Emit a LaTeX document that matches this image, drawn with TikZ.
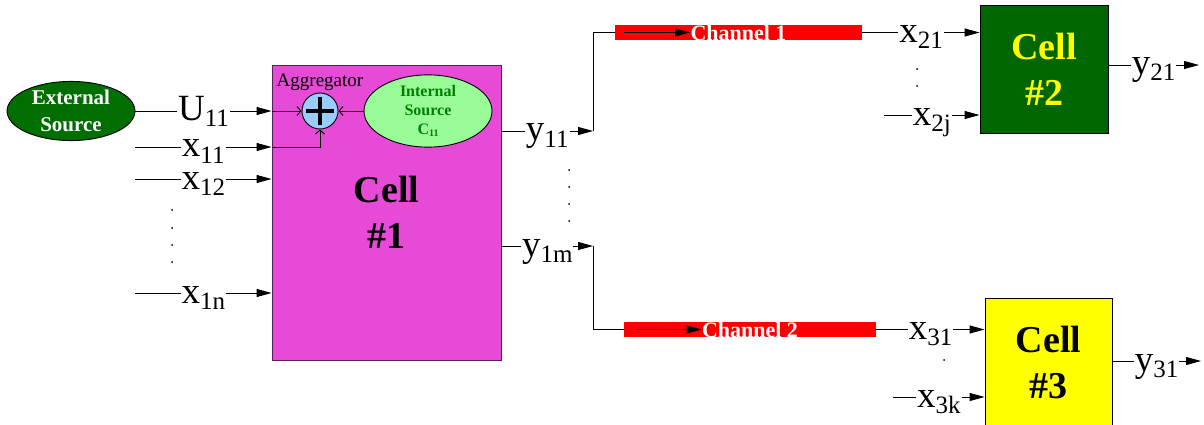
\documentclass[tikz,border=0pt]{standalone}
\usepackage{fontspec}
\setmainfont{Liberation Serif}
\usetikzlibrary{
  arrows.meta,
  calc,
  positioning,
  shapes.geometric,
}

\definecolor{cellpink}{RGB}{230,74,214}
\definecolor{celledge}{RGB}{90,30,90}
\definecolor{celldark}{RGB}{0,102,0}
\definecolor{srcgreen}{RGB}{0,110,0}
\definecolor{intgreen}{RGB}{152,251,152}
\definecolor{inttext}{RGB}{0,128,0}
\definecolor{aggblue}{RGB}{153,204,255}
\definecolor{cellyellow}{RGB}{255,255,0}

\newcommand\fsz[1]{\fontsize{#1}{#1}\selectfont}
\newcommand\sig[2]{#1\raisebox{-6pt}{\fsz{25}#2}}

\begin{document}
\begin{tikzpicture}[x=1pt,y=-1pt,
  line width=.9pt,>={Triangle[length=15pt,width=8pt]},
  cell/.style={draw,rectangle,inner sep=0pt,align=center,
    font=\fontsize{38}{46}\selectfont\bfseries},
  src/.style={draw,ellipse,inner sep=0pt,align=center},
  lbl/.style={fill=white,inner sep=1pt,anchor=base,yshift=-10pt,
    font=\fsz{37}},
  chan/.style={fill=red,inner sep=0pt,minimum height=15pt},
  chtxt/.style={inner sep=0pt,text=white,font=\fsz{22}\bfseries},
  barb/.style={-{Straight Barb[length=4pt,width=9pt]}}]
  \useasboundingbox (0,0) rectangle (1204,425);
  %%
  \node[cell,fill=cellpink,draw=celledge,minimum width=229pt,
    minimum height=295pt] (C1) at (386.5,212.5) {Cell\\\#1};
  \node[cell,fill=celldark,text=cellyellow,minimum size=128pt]
    (C2) at (1044,69) {Cell\\\#2};
  \node[cell,fill=cellyellow,minimum width=127pt,minimum height=128pt]
    (C3) at (1048.5,362) {Cell\\\#3};
  %%
  \node[src,fill=srcgreen,text=white,minimum width=128pt,
    minimum height=59pt,font=\fontsize{21}{27}\selectfont\bfseries]
    (Ext) at (71,111) {External\\Source};
  \node[src,fill=intgreen,text=inttext,minimum width=128pt,
    minimum height=58pt,font=\fontsize{16}{19}\selectfont\bfseries]
    (Int) at (428,111) {Internal\\Source\\C\raisebox{-2pt}{\fsz{10}11}};
  \node[draw,circle,fill=aggblue,minimum size=36pt,inner sep=0pt]
    (Agg) at (320,111) {};
  \draw[line width=3.5pt] ([xshift=-14pt]Agg.center) -- ([xshift=14pt]Agg.center);
  \draw[line width=3.5pt] ([yshift=-14pt]Agg.center) -- ([yshift=14pt]Agg.center);
  \node[inner sep=0pt,font=\fsz{19},above=1pt of Agg] (AggT) {Aggregator};
  %%
  \coordinate (U) at (C1.west |- Ext);
  \coordinate (X11s) at (135,147);
  \coordinate (X11) at (C1.west |- X11s);
  \coordinate (X12s) at (135,179);
  \coordinate (X1ns) at (135,293);
  \draw[->] (Ext) -- node[lbl]{\sig{U}{11}} (U);
  \draw[barb] (U) -- (Agg);
  \draw[->] (X11s) -- node[lbl]{\sig{x}{11}} (X11);
  \draw[barb] (X11) -| (Agg);
  \draw[barb] (Int) -- (Agg);
  \draw[->] (X12s) -- node[lbl]{\sig{x}{12}} (C1.west |- X12s);
  \draw[->] (X1ns) -- node[lbl]{\sig{x}{1n}} (C1.west |- X1ns);
  %%
  \coordinate (Yj1) at (593,131);
  \coordinate (Yj2) at (593,246);
  \draw[->] (C1.east |- Yj1) -- node[lbl]{\sig{y}{11}} (Yj1);
  \draw[->] (C1.east |- Yj2) -- node[lbl]{\sig{y}{1m}} (Yj2);
  %%
  \node[chan,minimum width=247pt] (Ch1) at (738.5,32.5) {};
  \node[chtxt] (Ch1t) at (Ch1.center) {Channel 1};
  \node[chan,minimum width=252pt] (Ch2) at (750,329.5) {};
  \node[chtxt] (Ch2t) at (Ch2.center) {Channel 2};
  \draw (Yj1) |- (Ch1);
  \draw (Yj2) |- (Ch2);
  \draw[->] ([xshift=9pt]Ch1.west) -- (Ch1t.west);
  \draw[->] ([xshift=12pt]Ch2.west) -- (Ch2t.west);
  %%
  \coordinate (X2js) at (884,115);
  \coordinate (Y21) at (1199,65);
  \draw[->] (Ch1) -- node[lbl]{\sig{x}{21}} (C2.west |- Ch1);
  \draw[->] (X2js) -- node[lbl]{\sig{x}{2j}} (C2.west |- X2js);
  \draw[->] (C2.east |- Y21) -- node[lbl]{\sig{y}{21}} (Y21);
  %%
  \coordinate (X3ks) at (893,397);
  \coordinate (Y31) at (1201,361);
  \draw[->] (Ch2) -- node[lbl]{\sig{x}{31}} (C3.west |- Ch2);
  \draw[->] (X3ks) -- node[lbl]{\sig{x}{3k}} (C3.west |- X3ks);
  \draw[->] (C3.east |- Y31) -- node[lbl]{\sig{y}{31}} (Y31);
  %%
  \foreach \y in {210,228,245,262} \fill (172,\y) circle (1);
  \foreach \y in {170,187,204,221} \fill (569,\y) circle (1);
  \foreach \y in {69,86} \fill (917,\y) circle (1);
  \foreach \y in {344,360} \fill (944,\y) circle (1);
\end{tikzpicture}
\end{document}
